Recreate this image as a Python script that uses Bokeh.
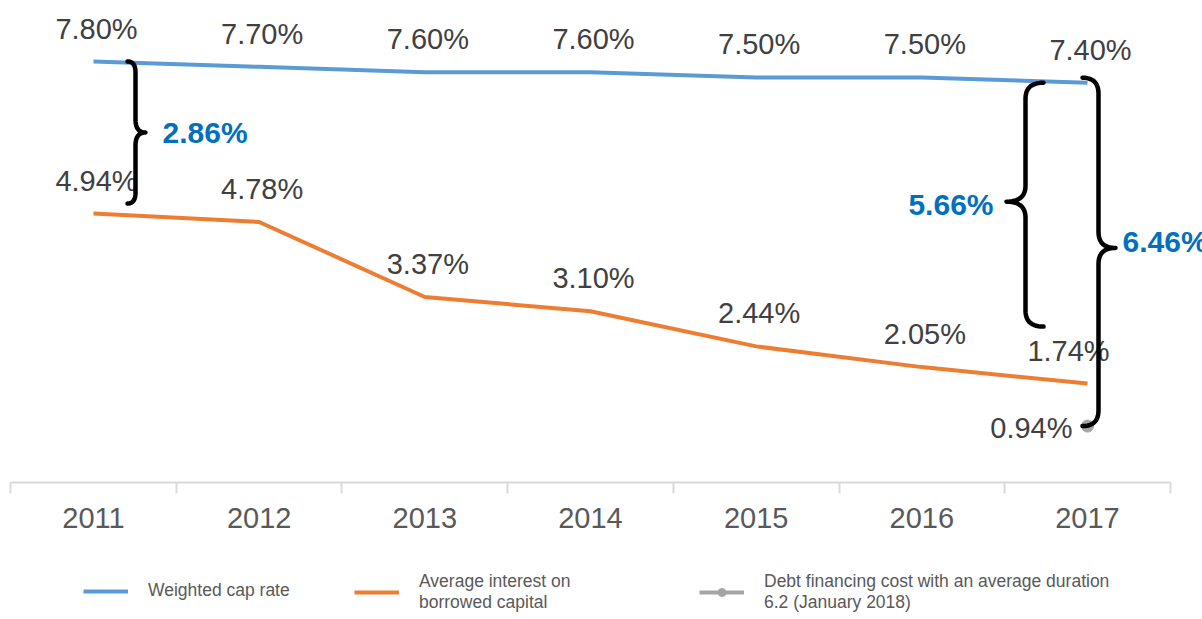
import numpy as np
from bokeh.plotting import figure
from bokeh.models import Range1d, LinearAxis, FixedTicker, Legend, LegendItem, ColumnDataSource
from bokeh.core.properties import value
from bokeh.embed import file_html
from bokeh.resources import INLINE

# ---------------- data ----------------
years = ["2011", "2012", "2013", "2014", "2015", "2016", "2017"]
cap_rate = [7.80, 7.70, 7.60, 7.60, 7.50, 7.50, 7.40]
avg_interest = [4.94, 4.78, 3.37, 3.10, 2.44, 2.05, 1.74]
debt_year = ["2017"]
debt_cost = [0.94]
legend_labels = [
    "Weighted cap rate",
    "Average interest on\nborrowed capital",
    "Debt financing cost with an average duration\n6.2 (January 2018)",
]

BLUE = "#5B9BD5"
ORANGE = "#ED7D31"
GRAY = "#A5A5A5"
ANN_BLUE = "#0070C0"
TXT = "#404040"
AXTXT = "#595959"
FONT = "Liberation Sans"

W, H = 1202, 619
XPX = 165.67   # pixels per category
YPX = 53.15    # pixels per percentage point

p = figure(width=W, height=H, output_backend="svg", toolbar_location=None,
           x_range=Range1d(-93 / XPX, 6 + 115 / XPX),
           y_range=Range1d(7.8 - 558 / YPX, 7.8 + 61 / YPX),
           x_axis_location=None, y_axis_location=None,
           min_border=0, outline_line_color=None, background_fill_color="white")
p.grid.grid_line_color = None

xi = list(range(len(years)))
dxi = [years.index(y) for y in debt_year]

# ---------------- lines ----------------
r_cap = p.line(xi, cap_rate, line_color=BLUE, line_width=4)
r_int = p.line(xi, avg_interest, line_color=ORANGE, line_width=4)
r_debt_line = p.line(dxi, debt_cost, line_color=GRAY, line_width=4)
r_debt = p.scatter(dxi, debt_cost, size=12, fill_color=GRAY, line_color=GRAY)

# ---------------- data labels ----------------
def labels(xs, ys, xo, yo, align="center"):
    src = ColumnDataSource(dict(x=xs, y=ys, t=[f"{v:.2f}%" for v in ys], xo=xo))
    p.text("x", "y", text="t", source=src, x_offset="xo", y_offset=yo,
           text_align=align, text_baseline="middle",
           text_font=value(FONT), text_font_size="29px", text_color=TXT)

labels(xi, cap_rate, [3] * 7, -33)
labels(xi, avg_interest, [3] * 6 + [-19], -33)
labels(dxi, debt_cost, [-15], 2, align="right")

# ---------------- braces ----------------
def quad(p0, c, p1, n=14):
    t = np.linspace(0, 1, n)
    x = (1 - t) ** 2 * p0[0] + 2 * (1 - t) * t * c[0] + t ** 2 * p1[0]
    y = (1 - t) ** 2 * p0[1] + 2 * (1 - t) * t * c[1] + t ** 2 * p1[1]
    return list(x), list(y)

def brace(x_end, x_spine, x_tip, y_top, y_bot, r=12 / YPX, rm=13 / YPX, tip_shift=0.0):
    ym = (y_top + y_bot) / 2 + tip_shift
    xs, ys = [], []
    for seg in [quad((x_end, y_top), (x_spine, y_top), (x_spine, y_top - r)),
                quad((x_spine, ym + rm), (x_spine, ym), (x_tip, ym)),
                quad((x_tip, ym), (x_spine, ym), (x_spine, ym - rm)),
                quad((x_spine, y_bot + r), (x_spine, y_bot), (x_end, y_bot))]:
        xs += seg[0]
        ys += seg[1]
    p.line(xs, ys, line_color="black", line_width=4.5, line_cap="round", line_join="round")
    return ym

def spread_label(x, y, val, xo, align, yo=0):
    p.text([x], [y], text=[f"{val:.2f}%"], x_offset=xo, y_offset=yo, text_align=align,
           text_baseline="middle", text_font=value(FONT), text_font_size="30px",
           text_font_style="bold", text_color=ANN_BLUE)

i0, i6, d = 0, 6, dxi[0]
s1 = round(cap_rate[i0] - avg_interest[i0], 2)
s2 = round(cap_rate[i6] - avg_interest[i6], 2)
s3 = round(cap_rate[i6] - debt_cost[0], 2)

ym1 = brace(i0 + 34 / XPX, i0 + 42 / XPX, i0 + 52 / XPX,
            cap_rate[i0], avg_interest[i0] + 10 / YPX, r=11 / YPX)
spread_label(i0 + 52 / XPX, ym1, s1, 17, "left")

ym2 = brace(i6 - 44 / XPX, i6 - 62 / XPX, i6 - 81 / XPX,
            cap_rate[i6], avg_interest[i6] + 57 / YPX, r=16 / YPX, rm=16 / YPX,
            tip_shift=3 / YPX)
spread_label(i6 - 81 / XPX, ym2, s2, -13, "right", yo=3)

ym3 = brace(d - 5 / XPX, d + 11 / XPX, d + 28 / XPX,
            cap_rate[i6] + 5 / YPX, debt_cost[0], r=16 / YPX, rm=16 / YPX,
            tip_shift=4 / YPX)
spread_label(d + 28 / XPX, ym3, s3, 7, "left", yo=-6)

# ---------------- x axis ----------------
ax = LinearAxis(fixed_location=7.8 - (482 - 61) / YPX,
                ticker=FixedTicker(ticks=xi, minor_ticks=[i - 0.5 for i in range(len(years) + 1)]),
                major_label_overrides={i: y for i, y in enumerate(years)},
                bounds=(-0.5, len(years) - 0.5))
ax.axis_line_color = "#D9D9D9"
ax.axis_line_width = 2
ax.major_tick_line_color = None
ax.major_tick_out = 0
ax.major_tick_in = 0
ax.minor_tick_line_color = "#D9D9D9"
ax.minor_tick_line_width = 2
ax.minor_tick_out = 11
ax.minor_tick_in = 0
ax.major_label_standoff = 14
ax.major_label_text_font = FONT
ax.major_label_text_font_size = "29px"
ax.major_label_text_color = AXTXT
p.add_layout(ax, "below")

# ---------------- legends ----------------
legend_specs = [
    (legend_labels[0], [r_cap], (83, 18)),
    (legend_labels[1], [r_int], (354, 6)),
    (legend_labels[2], [r_debt_line, r_debt], (699, 6)),
]
for lab, rends, loc in legend_specs:
    lg = Legend(items=[LegendItem(label=lab, renderers=rends)], location=loc,
                orientation="horizontal", background_fill_alpha=0, border_line_color=None,
                padding=0, spacing=0, margin=0, glyph_width=45, glyph_height=20,
                label_standoff=20, label_text_font=FONT, label_text_font_size="17.5px",
                label_text_color=AXTXT, label_text_line_height=1.37)
    p.add_layout(lg)

open("out.html", "w").write(file_html(p, INLINE))
